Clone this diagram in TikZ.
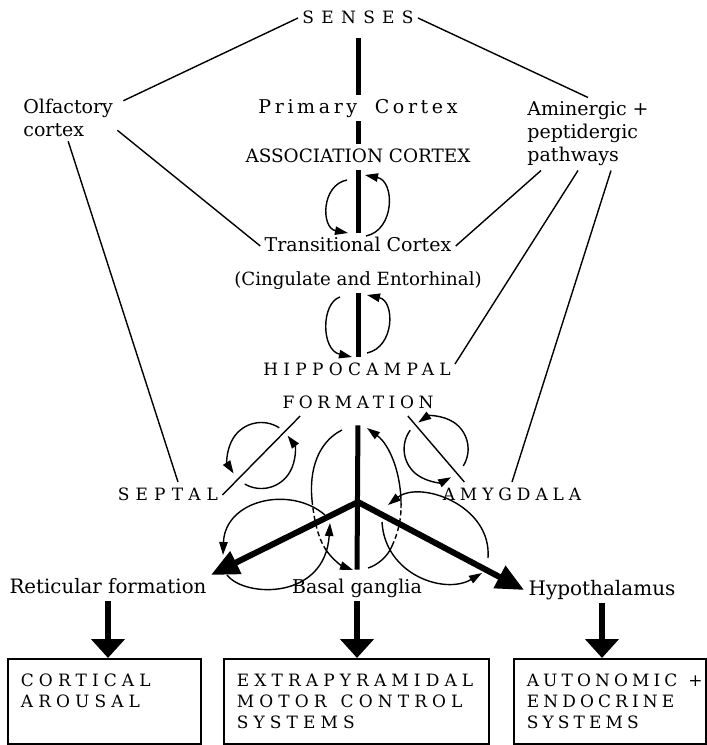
\documentclass[tikz,border=0pt]{standalone}
\usepackage{fontspec}
\setmainfont{DejaVu Serif}
\usetikzlibrary{calc, arrows.meta}

\begin{document}
\begin{tikzpicture}[x=0.5pt, y=-0.5pt,
    txt/.style={font=\fontsize{9.5}{11.5}\selectfont, inner sep=2pt},
    tag/.style={txt, text height=6.8pt, text depth=1.8pt},
    spaced/.style={tag, font=\fontsize{8.5}{11}\selectfont\addfontfeature{LetterSpace=#1}},
    link/.style={line width=0.7pt},
    spine/.style={line width=2.5pt},
    cyc/.style={line width=0.7pt, -{Triangle[length=6.5pt,width=4.2pt]}},
    bigarrow/.style={line width=3pt, -{Triangle[length=14pt,width=12pt]}},
    downarrow/.style={line width=2.8pt, -{Triangle[length=9.5pt,width=16.5pt]}},
    outbox/.style={draw, line width=0.9pt, anchor=north west, align=left,
        inner xsep=6.5pt, inner ysep=4pt, minimum height=42.5pt,
        font=\fontsize{8.5}{10.5}\selectfont\addfontfeature{LetterSpace=#1}}
]
    \useasboundingbox (0,0) rectangle (707,745);

    % cortical column
    \node[spaced=43] (senses) at (358,18) {SENSES};
    \node[tag, font=\fontsize{9.5}{11.5}\selectfont\addfontfeature{LetterSpace=19}] (primary) at (358,108) {Primary\hspace{4pt} Cortex};
    \node[tag, font=\fontsize{9.2}{11}\selectfont] (assoc) at (358,157) {ASSOCIATION CORTEX};
    \node[tag] (trans) at (358,246) {Transitional Cortex};
    \node[tag, font=\fontsize{9.1}{11}\selectfont] (cingulate) at (358,280) {(Cingulate and Entorhinal)};
    \node[spaced=31] (hippo) at (357,370) {HIPPOCAMPAL};
    \node[spaced=27] (formation) at (358,403) {FORMATION};

    % side inputs
    \node[txt, align=left, anchor=west] (olfactory) at (19,118) {Olfactory\\cortex};
    \node[txt, align=left, anchor=west] (amin) at (523,134) {Aminergic +\\peptidergic\\pathways};

    % limbic nuclei and targets
    \node[spaced=36] (septal) at (168,495) {SEPTAL};
    \node[spaced=29] (amygdala) at (512,495) {AMYGDALA};
    \node[tag, font=\fontsize{9.9}{11.5}\selectfont] (reticular) at (108,588) {Reticular formation};
    \node[tag] (basal) at (357,588) {Basal ganglia};
    \node[tag, font=\fontsize{10}{11.5}\selectfont] (hypo) at (602,590) {Hypothalamus};

    \node[outbox=30, text width=83.5pt] (arousal) at (7,658) {CORTICAL\\AROUSAL\\\mbox{}};
    \node[outbox=30, text width=119.5pt] (motor) at (223,658) {EXTRAPYRAMIDAL\\\mbox{MOTOR\hspace{7pt}CONTROL}\\SYSTEMS};
    \node[outbox=24, text width=83pt] (endocrine) at (513,658) {\mbox{AUTONOMIC\hspace{5.5pt}+}\\ENDOCRINE\\SYSTEMS};

    % thin connections
    \draw[link] (senses.west) -- ($(olfactory.north east)+(6,6)$);
    \draw[link] (senses.east) -- (amin.north);
    \draw[link] (olfactory.-14) -- (trans.west);
    \draw[link] (olfactory.south) -- ([xshift=5pt]septal.north);
    \draw[link] ([xshift=-23.5pt]amin.south) -- (trans.east);
    \draw[link] ([xshift=-5pt]amin.south) -- ([yshift=3pt]hippo.east);
    \draw[link] ([xshift=11.5pt]amin.south) -- (amygdala.north);
    \draw[link] (septal.east) -- coordinate (sepmid) ([xshift=11pt]formation.south west);
    \draw[link] ([xshift=-15pt]formation.south east) -- coordinate (amymid) ([xshift=13pt]amygdala.north west);

    % main pathway
    \draw[spine, shorten <=3.7pt] (senses.south) -- (primary.north);
    \draw[spine] (primary.south) -- (assoc.north);
    \draw[spine] (assoc.south) -- (trans.north);
    \draw[spine] (cingulate.south) -- (cingulate.south |- hippo.north);
    \coordinate (hub) at (358,502);

    % reciprocal loops along the column
    \draw[cyc] (347,180) .. controls (321,185) and (321,228) .. (348,233);
    \draw[cyc] (366,236) .. controls (395,230) and (395,181) .. (365,175);
    \draw[cyc] (340,297) .. controls (321,303) and (321,350) .. (352,357);
    \draw[cyc] (367,353) .. controls (395,347) and (395,301) .. (367,295);

    % septal and amygdala circuits
    \draw[cyc] ([shift={(-57:33)}]sepmid) arc[start angle=-57, end angle=-213, radius=33];
    \draw[cyc] ([shift={(-240:33)}]sepmid) arc[start angle=-240, end angle=-397, radius=33];
    \draw[cyc] ([shift={(32:32)}]amymid) arc[start angle=32, end angle=-124, radius=32];
    \draw[cyc] ([shift={(-144:32)}]amymid) arc[start angle=-144, end angle=-298, radius=32];

    % hippocampal output loops
    \draw[link] (342,430) .. controls (318,442) and (309,470) .. (312,500);
    \draw[link, dash pattern=on 2.5pt off 1.5pt] (312,500) .. controls (314,520) and (318,538) .. (326,550);
    \draw[cyc] (326,550) .. controls (333,560) and (342,566) .. (353,570);
    \draw[link] (368,568) .. controls (378,565) and (388,556) .. (392,546);
    \draw[link, dash pattern=on 2.5pt off 1.5pt] (392,546) .. controls (398,533) and (401,520) .. (401,508);
    \draw[cyc] (401,508) .. controls (402,475) and (390,445) .. (367,428);
    \draw[cyc] (325,515) .. controls (290,485) and (225,500) .. (223,555);
    \draw[cyc] (227,575) .. controls (245,598) and (325,600) .. (330,523);
    \draw[cyc] (488,558) .. controls (492,505) and (420,480) .. (388,505);
    \draw[cyc] (382,522) .. controls (385,575) and (445,595) .. (482,573);

    \draw[spine, shorten <=4.7pt, shorten >=2.7pt] (formation.south) -- (basal.north);
    \draw[bigarrow] (hub) -- (reticular.north east);
    \draw[bigarrow] (hub) -- (hypo.west);

    % outputs
    \draw[downarrow] (reticular.south) -- (reticular.south |- arousal.north);
    \draw[downarrow] (basal.south) -- (basal.south |- motor.north);
    \draw[downarrow] (hypo.south) -- (hypo.south |- endocrine.north);
\end{tikzpicture}
\end{document}
